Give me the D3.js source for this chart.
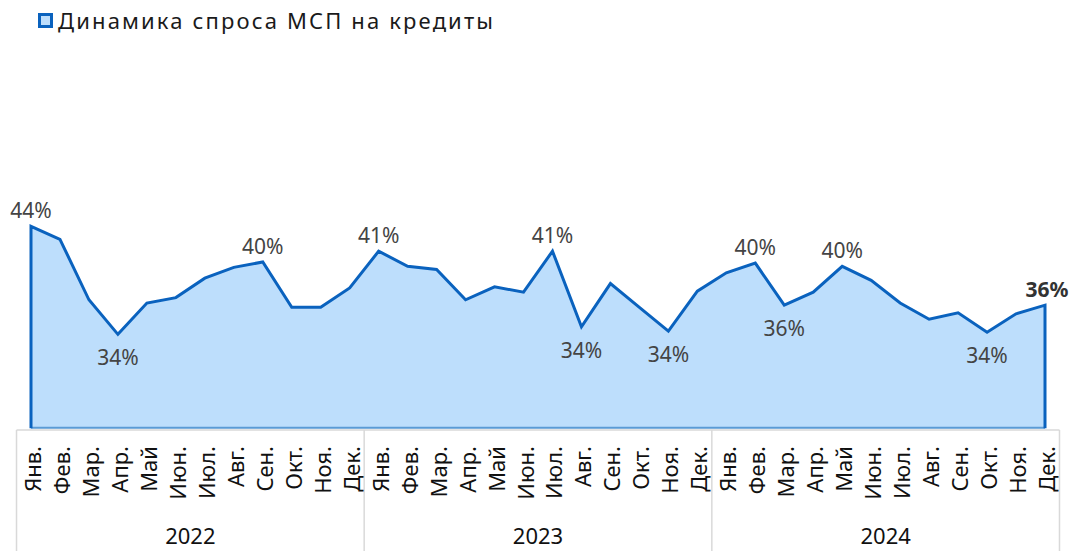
<!DOCTYPE html>
<html><head><meta charset="utf-8">
<script src="https://cdn.jsdelivr.net/npm/d3@7"></script>
<style>body{margin:0;background:#fff}svg{display:block}</style>
</head><body>
<svg id="c" width="1071" height="551"></svg>
<script>
const seriesName = "Динамика спроса МСП на кредиты";
const years = ["2022", "2023", "2024"];
const months = ["Янв.","Фев.","Мар.","Апр.","Май","Июн.","Июл.","Авг.","Сен.","Окт.","Ноя.","Дек."];
const values = [
  43.7, 42.5, 36.9, 33.7, 36.6, 37.1, 38.9, 39.9, 40.4, 36.2, 36.2, 38.0,
  41.4, 40.0, 39.7, 36.9, 38.1, 37.6, 41.4, 34.4, 38.4, 36.2, 34.0, 37.7,
  39.4, 40.3, 36.4, 37.6, 40.0, 38.7, 36.6, 35.1, 35.7, 33.9, 35.6, 36.4
];
// indices of points that carry a data label
const labelIdx = [0, 3, 8, 12, 18, 19, 22, 25, 26, 28, 33, 35];
const labelBelow = [3, 19, 22, 26, 33];

const font = "'Noto Sans', sans-serif";
const svg = d3.select("#c");
const cats = [];
years.forEach(y => months.forEach(m => cats.push(y + "|" + m)));
const data = values.map((v, i) => ({cat: cats[i], v, i}));

const x = d3.scalePoint().domain(cats).range([31, 1045]);
const step = x.step();
const y = d3.scaleLinear().domain([25, 45]).range([428.3, 428.3 - 20 * 10.8]);

// area
svg.append("path").datum(data)
  .attr("d", d3.area().x(d => x(d.cat)).y0(y(25)).y1(d => y(d.v)))
  .attr("fill", "#BDDEFC");
// bottom edge
svg.append("line").attr("x1", x(cats[0])).attr("x2", x(cats[cats.length-1]))
  .attr("y1", y(25) - 0.5).attr("y2", y(25) - 0.5).attr("stroke", "#5B9BD5").attr("stroke-width", 2);
// outline with vertical sides
const pts = [[x(cats[0]), y(25)], ...data.map(d => [x(d.cat), y(d.v)]), [x(cats[cats.length-1]), y(25)]];
svg.append("path").attr("d", d3.line()(pts))
  .attr("fill", "none").attr("stroke", "#0A62BE").attr("stroke-width", 3).attr("stroke-linejoin", "miter");

// category axis box
const axisY = 430;
const left = x(cats[0]) - step / 2, right = x(cats[cats.length-1]) + step / 2;
svg.append("line").attr("x1", left).attr("x2", right).attr("y1", axisY).attr("y2", axisY)
  .attr("stroke", "#D9D9D9").attr("stroke-width", 1.5);
const seps = years.map((yr, k) => left + k * 12 * step).concat([right]);
seps.forEach(sx => svg.append("line").attr("x1", sx).attr("x2", sx).attr("y1", axisY).attr("y2", 551)
  .attr("stroke", "#D9D9D9").attr("stroke-width", 1.5));

// month labels
svg.append("g").selectAll("text").data(cats).join("text")
  .attr("transform", d => `translate(${x(d) + 1},446) rotate(-90)`)
  .attr("text-anchor", "end").attr("dominant-baseline", "central")
  .attr("font-family", font).attr("font-size", 22).attr("fill", "#111")
  .text(d => d.split("|")[1]);

// year labels
svg.append("g").selectAll("text").data(years).join("text")
  .attr("x", (d, k) => (seps[k] + seps[k+1]) / 2).attr("y", 544)
  .attr("text-anchor", "middle")
  .attr("font-family", font).attr("font-size", 22).attr("fill", "#111")
  .text(d => d);

// data labels
svg.append("g").selectAll("text").data(labelIdx.map(i => data[i])).join("text")
  .attr("x", d => x(d.cat) + (d.i === 35 ? 2 : 0))
  .attr("y", d => labelBelow.includes(d.i) ? y(d.v) + 31 : y(d.v) - 8)
  .attr("text-anchor", "middle")
  .attr("font-family", font).attr("font-size", 21)
  .attr("font-weight", d => d.i === 35 ? "bold" : "normal")
  .attr("fill", d => d.i === 35 ? "#333" : "#444")
  .text(d => Math.round(d.v) + "%");

// legend
svg.append("rect").attr("x", 39.5).attr("y", 14.5).attr("width", 12).attr("height", 12)
  .attr("fill", "#BDDEFC").attr("stroke", "#0A62BE").attr("stroke-width", 3);
svg.append("text").attr("x", 58).attr("y", 28.5)
  .attr("font-family", font).attr("font-size", 22).attr("fill", "#1a1a1a")
  .attr("textLength", 435).attr("lengthAdjust", "spacing")
  .text(seriesName);
</script>
</body></html>
